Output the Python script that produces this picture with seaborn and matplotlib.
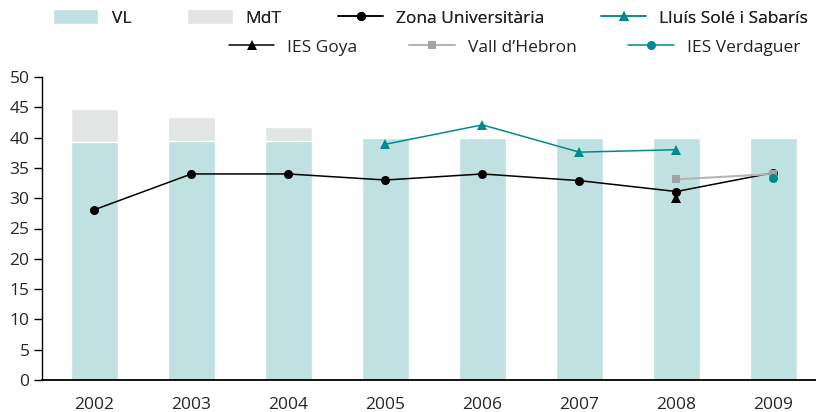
import pandas as pd
import seaborn as sns
import matplotlib.pyplot as plt
from matplotlib.patches import Patch
from matplotlib.lines import Line2D

sns.set_theme(style="white")
plt.rcParams['font.family'] = ['Open Sans', 'DejaVu Sans']
plt.rcParams['text.color'] = '#222222'

# Data
years = ['2002', '2003', '2004', '2005', '2006', '2007', '2008', '2009']
vl = [39.3, 39.4, 39.4, 40.0, 40.0, 40.0, 40.0, 40.0]
mdt = [5.4, 4.0, 2.3, 0.0, 0.0, 0.0, 0.0, 0.0]

zona_years = ['2002', '2003', '2004', '2005', '2006', '2007', '2008', '2009']
zona = [28.1, 34.0, 34.0, 33.0, 34.0, 32.9, 31.1, 34.2]
lluis_years = ['2005', '2006', '2007', '2008']
lluis = [38.9, 42.1, 37.6, 38.0]
goya_years = ['2008']
goya = [30.0]
vall_years = ['2008', '2009']
vall = [33.1, 34.0]
verd_years = ['2009']
verd = [33.4]

VL_COL = '#c0e1e1'
MDT_COL = '#e3e4e4'
TEAL = '#008b8b'
GRAY = '#a3a3a3'

bars = pd.DataFrame({'year': years, 'vl': vl, 'total': [a + b for a, b in zip(vl, mdt)]})

def pos(ys):
    return [years.index(y) for y in ys]

fig = plt.figure(figsize=(8.16, 4.12), dpi=100)
ax = fig.add_axes([42 / 816, 1 - 380 / 412, 1 - 42 / 816, 303 / 412])

# stacked bars: total (MdT colour) behind, VL in front
sns.barplot(data=bars, x='year', y='total', color=MDT_COL, saturation=1, width=0.48, ax=ax)
sns.barplot(data=bars, x='year', y='vl', color=VL_COL, saturation=1, width=0.48, ax=ax)

sns.lineplot(x=pos(zona_years), y=zona, color='black', marker='o', markersize=6.5,
             markeredgewidth=0, linewidth=1.1, ax=ax)
sns.lineplot(x=pos(lluis_years), y=lluis, color=TEAL, marker='^', markersize=7,
             markeredgewidth=0, linewidth=1.1, ax=ax)
sns.lineplot(x=pos(vall_years), y=vall, color='#b5b5b5', marker='s', markersize=6,
             markerfacecolor=GRAY, markeredgewidth=0, linewidth=1.5, ax=ax)
sns.lineplot(x=pos(goya_years), y=goya, color='black', marker='^', markersize=7,
             markeredgewidth=0, linewidth=1.1, ax=ax)
sns.lineplot(x=pos(verd_years), y=verd, color=TEAL, marker='o', markersize=6.5,
             markeredgewidth=0, linewidth=1.1, ax=ax)

ax.set_ylim(0, 50)
ax.set_yticks(range(0, 51, 5))
ax.set_xlim(-0.54, 7.44)
ax.set_xlabel('')
ax.set_ylabel('')
for s in ['top', 'right']:
    ax.spines[s].set_visible(False)
ax.spines['left'].set_color('black')
ax.spines['bottom'].set_color('black')
ax.spines['left'].set_linewidth(1.0)
ax.spines['bottom'].set_linewidth(1.3)
ax.tick_params(axis='y', length=6, width=1, color='black', pad=3, labelsize=12.5, left=True)
ax.tick_params(axis='x', length=0, pad=12, labelsize=12.5)

# legend, two rows
row1 = [Patch(facecolor=VL_COL, label='VL'),
        Patch(facecolor=MDT_COL, label='MdT'),
        Line2D([], [], color='black', marker='o', markersize=6.5, markeredgewidth=0, lw=1.1,
               label='Zona Universitària'),
        Line2D([], [], color=TEAL, marker='^', markersize=7, markeredgewidth=0, lw=1.1,
               label='Lluís Solé i Sabarís')]
row2 = [Line2D([], [], color='black', marker='^', markersize=7, markeredgewidth=0, lw=1.1,
               label='IES Goya'),
        Line2D([], [], color='#b5b5b5', marker='s', markersize=6, markerfacecolor=GRAY,
               markeredgewidth=0, lw=1.5, label='Vall d\u2019Hebron'),
        Line2D([], [], color=TEAL, marker='o', markersize=6.5, markeredgewidth=0, lw=1.1,
               label='IES Verdaguer')]

leg1 = fig.legend(handles=row1, ncol=4, loc='center right', bbox_to_anchor=(808 / 816, 1 - 18 / 412),
                  frameon=False, fontsize=12.5, handlelength=2.6, handleheight=0.9,
                  handletextpad=0.75, columnspacing=3.25, borderpad=0, borderaxespad=0)
leg2 = fig.legend(handles=row2, ncol=3, loc='center right', bbox_to_anchor=(800 / 816, 1 - 47 / 412),
                  frameon=False, fontsize=12.5, handlelength=2.6, handleheight=0.9,
                  handletextpad=0.75, columnspacing=3.0, borderpad=0, borderaxespad=0)
fig.add_artist(leg1)

fig.savefig('out.png', dpi=100)
